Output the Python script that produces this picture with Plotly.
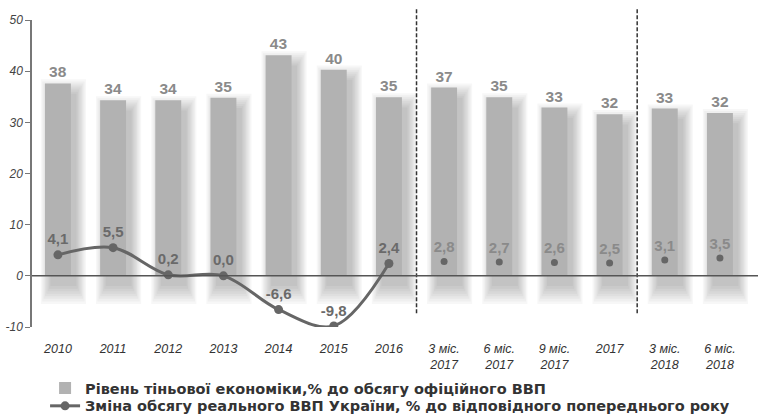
import plotly.graph_objects as go

categories = ["2010", "2011", "2012", "2013", "2014", "2015", "2016",
              "3 міс.<br>2017", "6 міс.<br>2017", "9 міс.<br>2017", "2017",
              "3 міс.<br>2018", "6 міс.<br>2018"]
shadow_level = [37.6, 34.3, 34.3, 34.8, 43.1, 40.3, 34.9, 36.8, 34.9, 32.9, 31.6, 32.7, 31.8]
shadow_labels = ["38", "34", "34", "35", "43", "40", "35", "37", "35", "33", "32", "33", "32"]
gdp_change_line = [4.1, 5.5, 0.2, 0.0, -6.6, -9.8, 2.4]
gdp_change_points = [2.8, 2.7, 2.6, 2.5, 3.1, 3.5]
y_ticks = [-10, 0, 10, 20, 30, 40, 50]
y_tick_text = ["-10", "0", "10", "20", "30", "40", "50"]

line_cats = categories[:7]
point_cats = categories[7:]

FONT = "Liberation Sans, Arial"

fig = go.Figure()

# soft blurred shadows behind bars (stacked translucent layers)
for k in range(8):
    w = 0.47 + 0.05 * k
    off = -0.235 + 0.10 - 0.025 * k
    top_shift = -2.0 + 0.4 * k
    bottom = -2.0 - 0.5 * k
    fig.add_trace(go.Bar(
        x=categories, y=[v + top_shift - bottom for v in shadow_level], base=bottom,
        offset=off, width=w, marker=dict(color="rgba(0,0,0,0.03)", line=dict(width=0)),
        showlegend=False, hoverinfo="skip"))

fig.add_trace(go.Bar(
    x=categories, y=shadow_level, offset=-0.235, width=0.47,
    marker=dict(color="#b2b2b2", line=dict(width=0)),
    text=shadow_labels, textposition="outside", cliponaxis=False,
    textfont=dict(family=FONT, size=15.5, color="#8a8a8a", weight="bold"),
    name="Рівень тіньової економіки,% до обсягу офіційного ВВП", legend="legend"))

fig.add_trace(go.Scatter(
    x=line_cats, y=gdp_change_line, mode="lines+markers+text",
    line=dict(color="#666666", width=3, shape="spline", smoothing=1.0),
    marker=dict(color="#666666", size=9),
    texttemplate="%{y:.1f}", textposition="top center",
    textfont=dict(family=FONT, size=15, color="#6a6a6a", weight="bold"),
    name="Зміна обсягу реального ВВП України, % до відповідного попереднього року",
    legend="legend2"))

fig.add_trace(go.Scatter(
    x=point_cats, y=gdp_change_points, mode="markers+text",
    marker=dict(color="#666666", size=7),
    texttemplate="%{y:.1f}", textposition="top center",
    textfont=dict(family=FONT, size=15, color="#8a8a8a", weight="bold"),
    showlegend=False))

for xv in [6.5, 10.5]:
    fig.add_shape(type="line", xref="x", yref="paper", x0=xv, x1=xv, y0=0.045, y1=1.04,
                  line=dict(color="#333333", width=1.5, dash="4px,2px"))

fig.add_shape(type="line", xref="paper", yref="y", x0=0, x1=1, y0=0, y1=0,
              line=dict(color="#555555", width=1.5))

legend_font = dict(family="DejaVu Sans", size=14.5, color="#333333", weight="bold")

fig.update_layout(
    width=760, height=416,
    margin=dict(l=32, r=2, t=20, b=89, autoexpand=False),
    paper_bgcolor="white", plot_bgcolor="white",
    barmode="overlay", separators=", ",
    font=dict(family=FONT, color="#444444"),
    xaxis=dict(type="category", range=[-0.47, 12.69], showgrid=False, showline=False,
               ticks="", tickfont=dict(size=12.5, style="italic", color="#333333"),
               tickangle=0, automargin=False, ticklabelstandoff=12),
    yaxis=dict(range=[-10, 50], tickvals=y_ticks, ticktext=y_tick_text,
               showgrid=False, zeroline=False, automargin=False,
               showline=True, linecolor="#777777", linewidth=1.5,
               ticks="outside", ticklen=5, tickcolor="#777777",
               tickfont=dict(size=12, style="italic", color="#444444")),
    legend=dict(x=0.018, y=-0.199, xanchor="left", yanchor="middle", orientation="h",
                font=legend_font, itemwidth=30, bgcolor="rgba(0,0,0,0)"),
    legend2=dict(x=0.018, y=-0.257, xanchor="left", yanchor="middle", orientation="h",
                 font=legend_font, itemwidth=30, bgcolor="rgba(0,0,0,0)"),
    showlegend=True,
)

fig.write_html("out.html", config={"displayModeBar": False},
               post_script="document.body.style.margin='0px';document.body.style.overflow='hidden';")
